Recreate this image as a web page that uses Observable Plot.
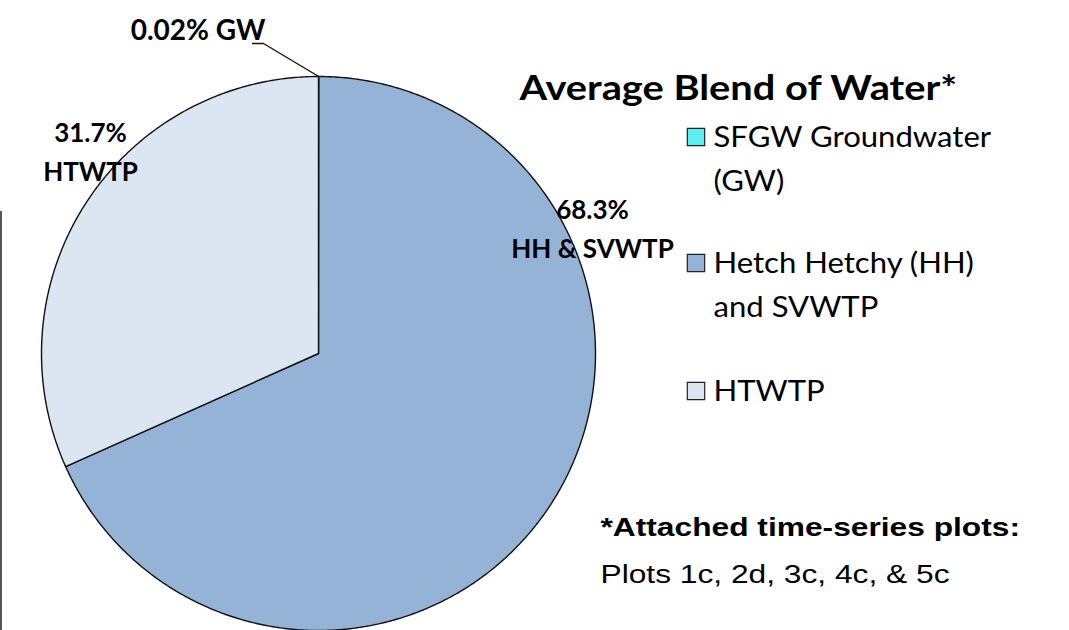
<!DOCTYPE html>
<html>
<head>
<meta charset="utf-8">
<script src="https://cdn.jsdelivr.net/npm/d3@7"></script>
<script src="https://cdn.jsdelivr.net/npm/@observablehq/plot@0.6"></script>
<style>
  html, body { margin: 0; padding: 0; background: #fff; overflow: hidden; }
  #wrap { position: relative; width: 1069px; height: 630px; }
  #bar { position: absolute; left: 0; top: 211px; width: 2px; height: 419px; background: #555; }
</style>
</head>
<body>
<div id="wrap"><div id="bar"></div></div>
<script>
// ---- data ----
const categories = ["SFGW Groundwater (GW)", "Hetch Hetchy (HH) and SVWTP", "HTWTP"];
const shortLabels = ["0.02% GW", "68.3%\nHH & SVWTP", "31.7%\nHTWTP"];
const shares = [0.02, 68.3, 31.7];
const colors = ["#5CEFF2", "#95B3D7", "#DCE6F2"];
const legendLines = [["SFGW Groundwater", "(GW)"], ["Hetch Hetchy (HH)", "and SVWTP"], ["HTWTP"]];
const title = "Average Blend of Water*";
const noteBold = "*Attached time-series plots:";
const noteText = "Plots 1c, 2d, 3c, 4c, & 5c";

// ---- geometry from the data (pie starting at 12 o'clock, clockwise) ----
const total = d3.sum(shares);
const pts = [];
let acc = 0;
shares.forEach((v, i) => {
  const a0 = acc / total * 2 * Math.PI;
  acc += v;
  const a1 = acc / total * 2 * Math.PI;
  const name = categories[i];
  pts.push({name, x: 0, y: 0});
  const n = Math.max(2, Math.ceil((a1 - a0) / (Math.PI / 360)));
  for (let k = 0; k <= n; k++) {
    const a = a0 + (a1 - a0) * k / n;
    pts.push({name, x: Math.sin(a), y: Math.cos(a)});
  }
});

// pixel layout helpers (center 318,353, radius 277)
const CX = 318, CY = 353, R = 277;
const X = px => (px - CX) / R;
const Y = py => (CY - py) / R;

const calibri = "Lato, 'Open Sans', sans-serif";
const arial = "'Liberation Sans', Arial, sans-serif";

const gwMid = (shares[0] / 2) / total * 2 * Math.PI;
const leader = [
  {x: Math.sin(gwMid), y: Math.cos(gwMid)},
  {x: X(263), y: Y(43)},
  {x: X(252), y: Y(43)}
];

const gwLabel = [{t: shortLabels[0], x: X(197.5), y: Y(39)}];
const pieLabels = [
  {t: shortLabels[1], x: X(592), y: Y(257)},
  {t: shortLabels[2], x: X(90), y: Y(180)}
];

const legendY = [146, 272, 400];
const legendRows = legendY.map((y, i) => ({i, y}));
const legendText = [];
legendLines.forEach((lines, i) => lines.forEach((t, j) => legendText.push({t, x: X(713), y: Y(legendY[i] + j * 44)})));

const chart = Plot.plot({
  width: 1069,
  height: 630,
  marginLeft: 41,
  marginRight: 1069 - 595,
  marginTop: 76,
  marginBottom: 0,
  x: {domain: [-1, 1], axis: null},
  y: {domain: [-1, 1], axis: null},
  color: {domain: categories, range: colors},
  style: {overflow: "visible", background: "transparent"},
  marks: [
    Plot.line(pts, {x: "x", y: "y", z: "name", fill: "name", stroke: "#111", strokeWidth: 1.4, curve: "linear-closed", strokeLinejoin: "round"}),
    Plot.line(leader, {x: "x", y: "y", stroke: "#111", strokeWidth: 1.4}),
    Plot.text(gwLabel, {x: "x", y: "y", text: "t", textAnchor: "middle", lineAnchor: "bottom", fontFamily: calibri, fontWeight: "bold", fontSize: 28, fill: "#000"}),
    Plot.text(pieLabels, {x: "x", y: "y", text: "t", textAnchor: "middle", lineAnchor: "bottom", lineHeight: 1.5, fontFamily: calibri, fontWeight: "bold", fontSize: 26, fill: "#000"}),
    Plot.text([title], {x: X(519), y: Y(99), text: d => d, textAnchor: "start", lineAnchor: "bottom", fontFamily: calibri, fontWeight: "bold", fontSize: 34, fill: "#000", className: "sx-title"}),
    Plot.dot(legendRows, {x: X(695.5), y: d => Y(d.y - 9.5), symbol: "square", r: 9.8, fill: d => categories[d.i], stroke: "#222", strokeWidth: 1.2}),
    Plot.text(legendText, {x: "x", y: "y", text: "t", textAnchor: "start", lineAnchor: "bottom", fontFamily: calibri, fontSize: 28, fill: "#000", className: "sx-legend"}),
    Plot.text([noteBold], {x: X(600), y: Y(535), text: d => d, textAnchor: "start", lineAnchor: "bottom", fontFamily: arial, fontWeight: "bold", fontSize: 26, fill: "#000", className: "sx-note"}),
    Plot.text([noteText], {x: X(600), y: Y(582), text: d => d, textAnchor: "start", lineAnchor: "bottom", fontFamily: arial, fontSize: 26, fill: "#000", className: "sx-note"})
  ]
});

// horizontal stretch of some text blocks (as in the reference slide)
function stretch(cls, s) {
  d3.select(chart).selectAll(`g.${cls} text, text.${cls}`).each(function() {
    const t = this.getAttribute("transform");
    if (t && t.includes("translate")) {
      this.setAttribute("transform", t + ` scale(${s},1)`);
    } else {
      const x = +this.getAttribute("x") || 0, y = +this.getAttribute("y") || 0;
      this.setAttribute("transform", `translate(${x},${y}) scale(${s},1) translate(${-x},${-y})`);
    }
  });
}
stretch("sx-title", 1.17);
stretch("sx-legend", 1.11);
stretch("sx-note", 1.22);

document.getElementById("wrap").appendChild(chart);
chart.style.position = "absolute";
chart.style.left = "0";
chart.style.top = "0";
</script>
</body>
</html>
